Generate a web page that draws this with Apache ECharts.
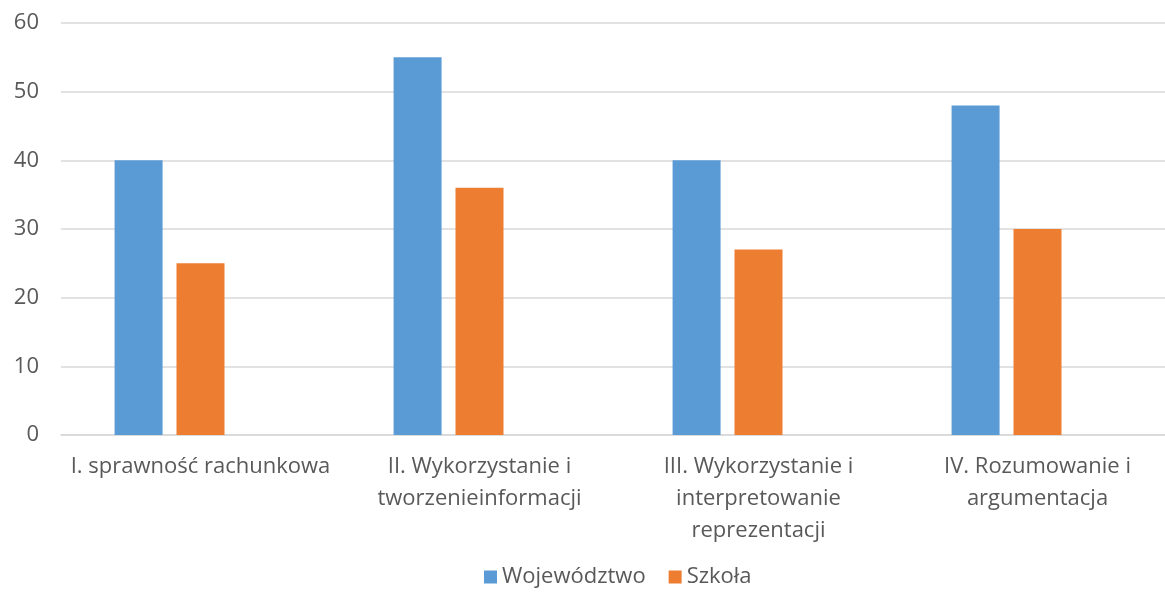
<!DOCTYPE html>
<html>
<head>
<meta charset="utf-8">
<script src="https://cdn.jsdelivr.net/npm/echarts@6/dist/echarts.min.js"></script>
<style>
  html, body { margin: 0; padding: 0; background: #fff; overflow: hidden; }
  /* oryginalny wykres jest przycięty z prawej strony */
  #chart { width: 1177px; height: 597px; }
</style>
</head>
<body>
<div id="chart"></div>
<script>
// kategorie (podpisy osi X)
const categories = [
  "I. sprawność rachunkowa",
  "II. Wykorzystanie i\ntworzenieinformacji",
  "III. Wykorzystanie i\ninterpretowanie\nreprezentacji",
  "IV. Rozumowanie i\nargumentacja"
];
const wojewodztwo = [40, 55, 40, 48];
const szkola = [25, 36, 27, 30];
// trzecia, pusta seria z arkusza (przesuwa słupki w lewo)
const pusta = [null, null, null, null];

let myChart = echarts.init(document.getElementById("chart"));
const txt = "#595959";
const font = "'Open Sans', 'Noto Sans', sans-serif";

let option = {
  animation: false,
  textStyle: { fontFamily: font },
  grid: { left: 61, top: 23, right: 0, height: 412 },
  legend: {
    data: ["Województwo", "Szkoła"],
    bottom: 4,
    left: 479,
    icon: "rect",
    itemWidth: 13,
    itemHeight: 13,
    itemGap: 23,
    textStyle: { color: txt, fontSize: 22, fontFamily: font }
  },
  xAxis: {
    type: "category",
    data: categories,
    axisLine: { lineStyle: { color: "#d9d9d9", width: 1.5 } },
    axisTick: { show: false },
    axisLabel: {
      color: txt,
      fontSize: 22,
      lineHeight: 32,
      margin: 16,
      interval: 0,
      fontFamily: font
    }
  },
  yAxis: {
    type: "value",
    min: 0,
    max: 60,
    interval: 10,
    axisLine: { show: false },
    axisTick: { show: false },
    splitLine: { lineStyle: { color: "#d9d9d9", width: 1.5 } },
    axisLabel: { color: txt, fontSize: 22, margin: 22, fontFamily: font }
  },
  series: [
    {
      name: "Województwo",
      type: "bar",
      data: wojewodztwo,
      barWidth: 48,
      barGap: "29%",
      itemStyle: { color: "#5b9bd5" }
    },
    {
      name: "Szkoła",
      type: "bar",
      data: szkola,
      barWidth: 48,
      barGap: "29%",
      itemStyle: { color: "#ed7d31" }
    },
    {
      name: "puste",
      type: "bar",
      data: pusta,
      barWidth: 48,
      barGap: "29%",
      itemStyle: { color: "#a5a5a5" }
    }
  ]
};
myChart.setOption(option);
</script>
</body>
</html>
